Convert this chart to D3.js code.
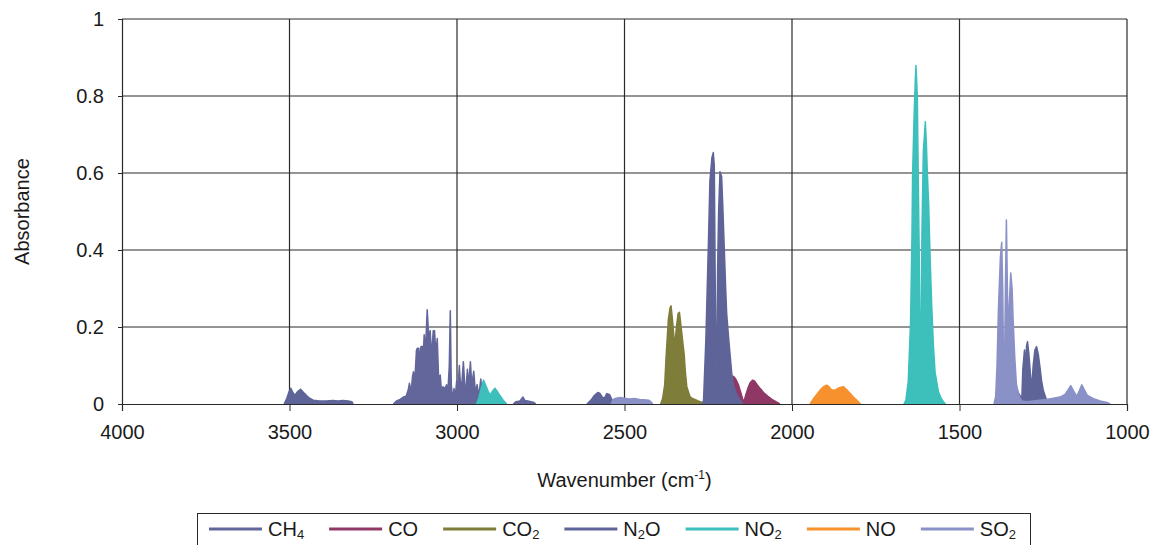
<!DOCTYPE html>
<html>
<head>
<meta charset="utf-8">
<script src="https://cdn.jsdelivr.net/npm/d3@7/dist/d3.min.js"></script>
<style>
  html, body { margin: 0; padding: 0; background: #fff; }
  svg { display: block; }
  text { font-family: "Liberation Sans", Arial, Helvetica, sans-serif; fill: #1a1a1a; }
</style>
</head>
<body>
<svg id="chart" width="1152" height="545"></svg>
<script>
// ---------- data (wavenumber cm-1, absorbance); null = gap ----------
const seriesNames = ["CH4", "CO", "CO2", "N2O", "NO2", "NO", "SO2"];
const xTicks = [4000, 3500, 3000, 2500, 2000, 1500, 1000];
const yTicks = [0, 0.2, 0.4, 0.6, 0.8, 1];
const yTickLabels = ["0", "0.2", "0.4", "0.6", "0.8", "1"];

const ch4 = [
  [3190,0],[3180,0.008],[3170,0.012],[3160,0.018],[3152,0.02],[3146,0.035],[3142,0.054],[3137,0.03],
  [3133,0.07],[3130,0.084],[3126,0.06],[3121,0.14],[3118,0.145],[3114,0.145],[3111,0.1],[3108,0.148],
  [3104,0.15],[3101,0.12],[3098,0.18],[3094,0.14],[3089,0.245],[3086,0.2],[3083,0.16],[3080,0.19],
  [3076,0.12],[3071,0.19],[3067,0.19],[3063,0.13],[3059,0.17],[3055,0.07],[3050,0.075],[3046,0.03],
  [3042,0.045],[3036,0.04],[3031,0.05],[3028,0.02],[3023,0.1],[3020,0.242],[3017,0.05],[3013,0.01],
  [3009,0.04],[3005,0.02],[3001,0.06],[2997,0.04],[2993,0.1],[2989,0.04],[2985,0.06],[2981,0.11],
  [2977,0.05],[2973,0.04],[2969,0.09],[2965,0.05],[2960,0.11],[2956,0.05],[2950,0.085],[2945,0.03],
  [2940,0.05],[2935,0.02],[2929,0.065],[2924,0.02],[2918,0.03],[2912,0.015],[2905,0.02],[2898,0.012],
  [2892,0.016],[2886,0],[2884,null],
  [2832,0],[2824,0.006],[2812,0.008],[2803,0.018],[2797,0.009],[2785,0.007],[2770,0.004],[2765,0],[2760,null],
  [1396,0],[1390,0.006],[1380,0.012],[1370,0.018],[1362,0.02],[1355,0.022],[1348,0.03],[1343,0.06],
  [1340,0.068],[1336,0.045],[1330,0.04],[1325,0.03],[1318,0.02],[1300,0.015],[1280,0.012],[1260,0.012],
  [1240,0.01],[1220,0.012],[1200,0.01],[1180,0.01],[1160,0.008],[1140,0.006],[1120,0.003],[1110,0]
];

const co = [
  [2222,0],[2212,0.015],[2200,0.03],[2190,0.05],[2180,0.065],[2175,0.072],[2168,0.065],[2160,0.05],
  [2153,0.03],[2147,0.012],[2143,0.008],[2139,0.02],[2132,0.04],[2125,0.055],[2118,0.062],[2112,0.06],
  [2104,0.05],[2095,0.04],[2085,0.03],[2072,0.02],[2060,0.012],[2048,0.006],[2036,0]
];

const co2 = [
  [2392,0],[2386,0.015],[2380,0.05],[2376,0.12],[2369,0.22],[2364,0.25],[2361,0.255],[2357,0.22],
  [2352,0.17],[2349,0.16],[2345,0.2],[2340,0.235],[2336,0.238],[2331,0.2],[2326,0.16],[2322,0.13],
  [2318,0.08],[2314,0.045],[2305,0.02],[2299,0.015],[2290,0.012],[2280,0.008],[2268,0.004],[2262,0]
];

const n2o = [
  [3516,0],[3508,0.015],[3500,0.035],[3496,0.041],[3490,0.03],[3484,0.022],[3476,0.032],[3467,0.038],
  [3458,0.03],[3449,0.022],[3440,0.015],[3429,0.01],[3410,0.008],[3390,0.008],[3370,0.009],[3355,0.008],
  [3340,0.009],[3325,0.008],[3314,0.006],[3310,0],[3300,null],
  [2612,0],[2600,0.01],[2590,0.022],[2580,0.03],[2574,0.028],[2566,0.018],[2560,0.015],[2553,0.027],
  [2545,0.025],[2538,0.012],[2528,0.004],[2520,0],[2510,null],
  [2268,0],[2264,0.01],[2257,0.17],[2250,0.4],[2245,0.58],[2239,0.64],[2235,0.653],[2232,0.62],
  [2230,0.4],[2227,0.08],[2225,0.08],[2222,0.35],[2219,0.5],[2215,0.603],[2210,0.59],[2206,0.5],[2202,0.4],
  [2198,0.3],[2195,0.235],[2190,0.18],[2185,0.13],[2180,0.08],[2175,0.05],[2165,0.025],[2155,0.01],
  [2148,0],[2140,null],
  [1318,0],[1314,0.01],[1311,0.09],[1306,0.14],[1302,0.1],[1300,0.15],[1297,0.162],[1293,0.13],
  [1290,0.097],[1285,0.036],[1280,0.1],[1275,0.14],[1270,0.149],[1265,0.13],[1260,0.097],[1255,0.06],
  [1250,0.036],[1240,0.01],[1225,0.003],[1215,0]
];

const no2 = [
  [2942,0],[2935,0.015],[2928,0.04],[2921,0.062],[2915,0.05],[2908,0.035],[2901,0.023],[2895,0.032],
  [2887,0.041],[2880,0.033],[2872,0.022],[2862,0.01],[2852,0],[2840,null],
  [1666,0],[1660,0.01],[1653,0.058],[1646,0.214],[1642,0.43],[1640,0.595],[1636,0.733],[1632,0.84],
  [1630,0.879],[1628,0.84],[1626,0.8],[1623,0.58],[1620,0.37],[1618,0.153],[1615,0.153],[1612,0.45],[1608,0.655],
  [1602,0.733],[1599,0.68],[1596,0.6],[1592,0.517],[1588,0.387],[1583,0.257],[1578,0.153],[1573,0.083],
  [1563,0.032],[1555,0.015],[1548,0.006],[1542,0]
];

const no = [
  [2262,0],[2255,0.008],[2240,0.01],[2220,0.011],[2200,0.01],[2185,0.008],[2176,0],[2170,null],
  [1946,0],[1940,0.008],[1936,0.014],[1926,0.025],[1916,0.036],[1906,0.045],[1896,0.049],[1890,0.045],
  [1883,0.038],[1875,0.035],[1868,0.038],[1860,0.042],[1847,0.045],[1838,0.038],[1827,0.028],[1817,0.018],
  [1807,0.01],[1800,0.004],[1795,0]
];

const so2 = [
  [2540,0],[2534,0.012],[2525,0.015],[2513,0.017],[2500,0.015],[2485,0.013],[2470,0.014],[2455,0.012],
  [2440,0.011],[2428,0.01],[2420,0.005],[2416,0],[2410,null],
  [1397,0],[1392,0.02],[1388,0.1],[1384,0.24],[1378,0.38],[1374,0.42],[1371,0.3],[1368,0.054],[1366,0.054],
  [1363,0.3],[1360,0.478],[1357,0.3],[1355,0.15],[1352,0.25],[1347,0.34],[1343,0.3],[1340,0.22],
  [1335,0.12],[1330,0.05],[1322,0.02],[1314,0.008],[1300,0.006],[1280,0.008],[1260,0.01],[1240,0.012],
  [1220,0.015],[1200,0.018],[1185,0.025],[1175,0.038],[1168,0.048],[1160,0.035],[1150,0.02],[1142,0.035],
  [1135,0.05],[1128,0.038],[1118,0.022],[1100,0.014],[1080,0.008],[1060,0.004],[1050,0]
];

const seriesData = { CH4: ch4, CO: co, CO2: co2, N2O: n2o, NO2: no2, NO: no, SO2: so2 };
const seriesColors = { CH4: "#62669a", CO: "#8f3866", CO2: "#7e7e3a", N2O: "#5f6498", NO2: "#3dbfbc", NO: "#f7912d", SO2: "#8a91c7" };
const drawOrder = ["CO", "NO", "CO2", "CH4", "N2O", "SO2", "NO2"];

// ---------- layout ----------
const svg = d3.select("#chart");
const L = 122, R = 1127, T = 19, B = 404;
const x = d3.scaleLinear().domain([4000, 1000]).range([L, R]);
const y = d3.scaleLinear().domain([0, 1]).range([B, T]);

// gridlines
const grid = svg.append("g");
grid.selectAll("line.h").data(yTicks.slice(1)).join("line")
  .attr("x1", L).attr("x2", R).attr("y1", d => y(d)).attr("y2", d => y(d))
  .attr("stroke", "#2a2a2a").attr("stroke-width", 1.2);
grid.selectAll("line.v").data(xTicks.slice(1)).join("line")
  .attr("x1", d => x(d)).attr("x2", d => x(d)).attr("y1", T).attr("y2", B)
  .attr("stroke", "#2a2a2a").attr("stroke-width", 1.2);

// series
const area = d3.area().defined(d => d[1] !== null)
  .x(d => x(d[0])).y0(y(0)).y1(d => y(d[1]));
const line = d3.line().defined(d => d[1] !== null)
  .x(d => x(d[0])).y(d => y(d[1]));
const sg = svg.append("g");
drawOrder.forEach(name => {
  const c = seriesColors[name];
  sg.append("path").datum(seriesData[name]).attr("d", area).attr("fill", c);
  sg.append("path").datum(seriesData[name]).attr("d", line).attr("fill", "none")
    .attr("stroke", c).attr("stroke-width", 1.5).attr("stroke-linejoin", "round");
});

// axes
const xAxis = d3.axisBottom(x).tickValues(xTicks).tickSize(7).tickPadding(14).tickFormat(d3.format("d"));
const gx = svg.append("g").attr("transform", `translate(0,${B})`).call(xAxis);
gx.select(".domain").attr("stroke", "#2a2a2a").attr("stroke-width", 1.2);
gx.selectAll(".tick line").attr("stroke", "#2a2a2a");
gx.selectAll(".tick text").attr("font-size", 20).attr("fill", "#1a1a1a")
  .attr("font-family", "Liberation Sans, Arial, sans-serif");

const yAxis = d3.axisLeft(y).tickValues(yTicks).tickSize(4).tickPadding(14)
  .tickFormat((d, i) => yTickLabels[i]);
const gy = svg.append("g").attr("transform", `translate(${L},0)`).call(yAxis);
gy.select(".domain").attr("stroke", "#2a2a2a").attr("stroke-width", 1.2);
gy.selectAll(".tick line").attr("stroke", "#2a2a2a");
gy.selectAll(".tick text").attr("font-size", 20).attr("fill", "#1a1a1a")
  .attr("font-family", "Liberation Sans, Arial, sans-serif");

// axis titles
svg.append("text").attr("transform", `translate(29,${(T + B) / 2}) rotate(-90)`)
  .attr("text-anchor", "middle").attr("font-size", 20).text("Absorbance");
const xt = svg.append("text").attr("x", (L + R) / 2).attr("y", 487)
  .attr("text-anchor", "middle").attr("font-size", 20);
xt.append("tspan").text("Wavenumber (cm");
xt.append("tspan").attr("font-size", 12).attr("dy", -8).text("-1");
xt.append("tspan").attr("dy", 8).text(")");

// legend
const lg = svg.append("g");
lg.append("rect").attr("x", 197.5).attr("y", 513.5).attr("width", 833).attr("height", 60)
  .attr("fill", "none").attr("stroke", "#2a2a2a").attr("stroke-width", 1);
let cx = 209;
seriesNames.forEach(name => {
  lg.append("line").attr("x1", cx).attr("x2", cx + 53).attr("y1", 529).attr("y2", 529)
    .attr("stroke", seriesColors[name]).attr("stroke-width", 3);
  const t = lg.append("text").attr("x", cx + 59).attr("y", 536).attr("font-size", 20);
  let shifted = false;
  name.split(/(\d)/).filter(s => s.length).forEach(part => {
    if (/^\d$/.test(part)) {
      t.append("tspan").attr("font-size", 13).attr("dy", 3).text(part);
      shifted = true;
    } else {
      const ts = t.append("tspan").text(part);
      if (shifted) { ts.attr("dy", -3); shifted = false; }
    }
  });
  cx = cx + 59 + t.node().getComputedTextLength() + 25;
});
</script>
</body>
</html>
